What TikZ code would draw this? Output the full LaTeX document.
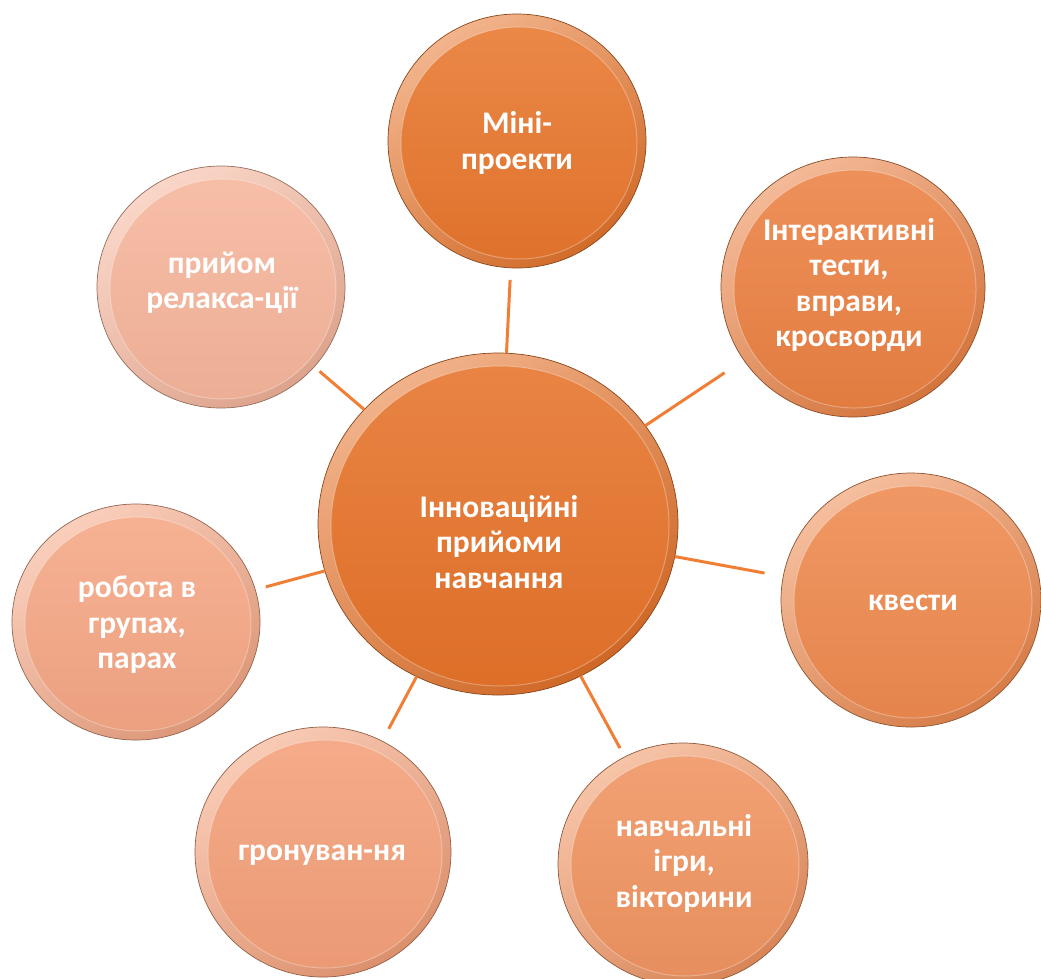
\documentclass[tikz,border=0pt]{standalone}
\usepackage{fontspec}
\setmainfont{Carlito}[BoldFont={Carlito Bold}]
\usetikzlibrary{shapes.geometric}
\definecolor{cCtr}{HTML}{E6732A}
\definecolor{cMini}{HTML}{E8772E}
\definecolor{cInter}{HTML}{EB8143}
\definecolor{cKv}{HTML}{EE8A4F}
\definecolor{cNav}{HTML}{F09461}
\definecolor{cHron}{HTML}{F4A079}
\definecolor{cRob}{HTML}{F5A785}
\definecolor{cPry}{HTML}{F6B59B}
\definecolor{cLine}{HTML}{F07F35}
\tikzset{
  bubshape/.style={ellipse, inner sep=0pt, outer sep=0pt, draw=#1!60!black, line width=0.7pt,
    top color=#1!55!white, bottom color=#1!90!black, shading angle=35},
  lbl/.style={text=white, font=\bfseries\fontsize{31.5}{35.5}\selectfont, align=center, inner sep=0pt},
  conn/.style={draw=cLine, line width=3pt},
}
\newcommand\bubble[6]{%
  \node[bubshape=#6, minimum width={2*#4pt}, minimum height={2*#5pt}] (#1) at (#2,#3) {};
  \shade[top color=#6!88!white, bottom color=#6!96!black] (#2+2,#3+2) ellipse [x radius={#4pt-11pt}, y radius={#5pt-11pt}];
  \draw[white, opacity=0.3, line width=1pt] (#2+2,#3+2) ellipse [x radius={#4pt-11pt}, y radius={#5pt-11pt}];
}
\begin{document}
\begin{tikzpicture}[x=1pt, y=-1pt]
\useasboundingbox[fill=white] (0,0) rectangle (1041,978);
\bubble{ctr}{498}{524}{180}{171}{cCtr}
\bubble{mini}{517}{141}{129}{127}{cMini}
\bubble{inter}{853}{287}{132}{130}{cInter}
\bubble{kv}{911}{600}{130}{127}{cKv}
\bubble{nav}{683}{864}{125}{121}{cNav}
\bubble{hron}{323}{852}{128}{125}{cHron}
\bubble{rob}{136}{622}{124}{118}{cRob}
\bubble{pry}{221}{287}{124}{121}{cPry}

\draw[conn, shorten >=12pt] (ctr) -- (mini);
\draw[conn, shorten >=23pt] (ctr) -- (inter);
\draw[conn, shorten >=19pt] (ctr) -- (kv);
\draw[conn, shorten >=10pt] (ctr) -- (nav);
\draw[conn, shorten >=14pt] (ctr) -- (hron);
\draw[conn, shorten >=11pt] (ctr) -- (rob);
\draw[conn, shorten >=7pt] (ctr) -- (pry);

\node[lbl] (ctrT) at (499,542) {Інноваційні\\прийоми\\навчання};
\node[lbl] (miniT) at (517,143) {Міні-\\проекти};
\node[lbl] (interT) at (849,285) {Інтерактивні\\тести,\\вправи,\\кросворди};
\node[lbl] (kvT) at (913,603) {квести};
\node[lbl] (navT) at (684,863) {навчальні\\ігри,\\вікторини};
\node[lbl] (hronT) at (322,855) {гронуван-ня};
\node[lbl] (robT) at (137,625) {робота в\\групах,\\парах};
\node[lbl] (pryT) at (222,283) {прийом\\релакса-ції};
\end{tikzpicture}
\end{document}
